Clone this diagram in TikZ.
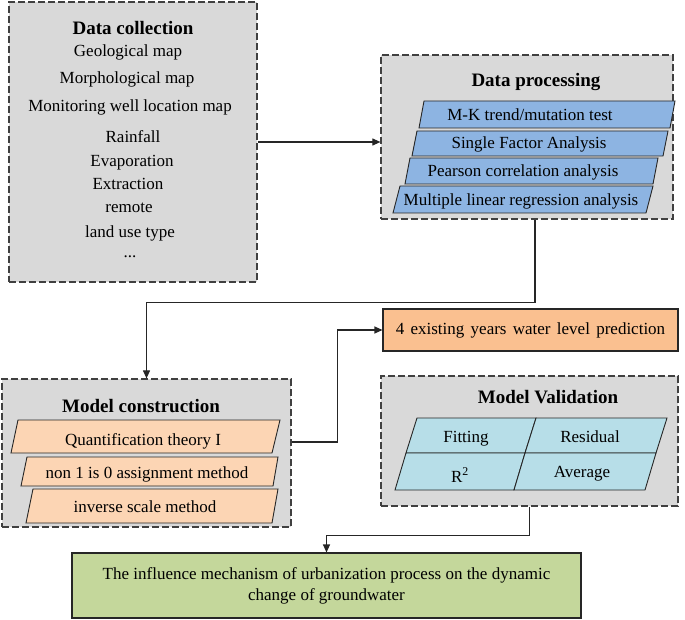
\documentclass[tikz,border=0pt]{standalone}
\usepackage{fontspec}
\setmainfont{Liberation Serif}
\usetikzlibrary{arrows.meta}
\definecolor{grpgray}{HTML}{D9D9D9}
\definecolor{procblue}{HTML}{8DB4E2}
\definecolor{conspeach}{HTML}{FCD5B4}
\definecolor{predorange}{HTML}{FAC090}
\definecolor{validblue}{HTML}{B7DEE8}
\definecolor{resgreen}{HTML}{C4D79B}
\tikzset{
  group/.style={draw=black!75, dash pattern=on 7pt off 3pt, line width=1.2pt, fill=grpgray},
  title/.style={font=\fontsize{19}{22}\selectfont\bfseries, anchor=base},
  item/.style={font=\fontsize{17}{20}\selectfont, anchor=base},
  para/.style={draw=black!85, line width=0.9pt},
  link/.style={draw=black!85, line width=1.1pt},
  arr/.style={link, -{Triangle[length=8pt,width=7pt]}}
}
\begin{document}
\begin{tikzpicture}[x=1pt,y=-1pt]
			\useasboundingbox (0,0) rectangle (685,620);
			% data collection
			\node[group, minimum width=248pt, minimum height=280pt] (coll) at (133,142) {};
			\node[title] (colltitle) at (133,35) {Data collection};
			\node[item] (geo) at (128,57) {Geological map};
			\node[item] (morph) at (127,84) {Morphological map};
			\node[item] (well) at (130,112) {Monitoring well location map};
			\node[item] (rain) at (133,143) {Rainfall};
			\node[item] (evap) at (132,167) {Evaporation};
			\node[item] (extr) at (128,190) {Extraction};
			\node[item] (remote) at (129,213) {remote};
			\node[item] (landuse) at (130,238) {land use type};
			\node[item] (more) at (130,258) {...};
			% data processing
			\node[group, minimum width=292pt, minimum height=164pt] (proc) at (527,137) {};
			\node[title] (proctitle) at (536,87) {Data processing};
			\draw[para, fill=procblue] (419,128) -- (670,128) -- (675,101) -- (424,101) -- cycle;
			\draw[para, fill=procblue] (412,156) -- (663,156) -- (668,131) -- (417,131) -- cycle;
			\draw[para, fill=procblue] (405,184) -- (653,184) -- (658,158) -- (410,158) -- cycle;
			\draw[para, fill=procblue] (393,213) -- (646,213) -- (653,186) -- (400,186) -- cycle;
			\node[item] (mk) at (530,121) {M-K trend/mutation test};
			\node[item] (single) at (529,149) {Single Factor Analysis};
			\node[item] (pearson) at (523,177) {Pearson correlation analysis};
			\node[item] (mlr) at (521,206) {Multiple linear regression analysis};
			% model construction
			\node[group, minimum width=289pt, minimum height=148pt] (model) at (146.5,453) {};
			\node[title] (modeltitle) at (141,412) {Model construction};
			\draw[para, fill=conspeach] (11,453) -- (272,453) -- (280,420) -- (18,420) -- cycle;
			\draw[para, fill=conspeach] (21,486) -- (273,486) -- (278,457) -- (27,457) -- cycle;
			\draw[para, fill=conspeach] (26,523) -- (272,523) -- (278,489) -- (33,489) -- cycle;
			\node[item] (qt) at (143,445) {Quantification theory I};
			\node[item] (nonone) at (147,478) {non 1 is 0 assignment method};
			\node[item] (invscale) at (145,512) {inverse scale method};
			% prediction
			\node[draw=black!85, line width=1.1pt, fill=predorange, minimum width=295pt, minimum height=42pt,
				font=\fontsize{17}{20}\selectfont] (pred) at (530.5,330) {\spaceskip=6.3pt\relax 4 existing years water level prediction};
			% model validation
			\node[group, minimum width=297pt, minimum height=130pt] (valid) at (529.5,441) {};
			\node[title] (validtitle) at (548,403) {Model Validation};
			\draw[para, fill=validblue] (406,453) -- (525,453) -- (536,418) -- (417,418) -- cycle;
			\draw[para, fill=validblue] (525,453) -- (656,453) -- (667,418) -- (536,418) -- cycle;
			\draw[para, fill=validblue] (395,490) -- (514,490) -- (525,453) -- (406,453) -- cycle;
			\draw[para, fill=validblue] (514,490) -- (645,490) -- (656,453) -- (525,453) -- cycle;
			\node[item] (fit) at (466,442) {Fitting};
			\node[item] (resid) at (590,442) {Residual};
			\node[item] (rsq) at (460,482) {R\textsuperscript{2}};
			\node[item] (avg) at (582,477) {Average};
			% result
			\node[draw=black!85, line width=1.1pt, fill=resgreen, minimum width=509pt, minimum height=65pt,
				align=center, font=\fontsize{17}{21}\selectfont] (result) at (326.5,585.5)
				{The influence mechanism of urbanization process on the dynamic\\change of groundwater};
			% connectors
			\draw[arr] (coll.east) -- (coll.east -| proc.west);
			\draw[arr] ([xshift=8pt]proc.south) -- ++(0,83) -| (model.north);
			\draw[arr] ([yshift=11pt]model.east) -- ++(46,0) |- (pred.west);
			\draw[arr] (valid.south) -- ++(0,29) -| (result.north);
		\end{tikzpicture}
\end{document}
